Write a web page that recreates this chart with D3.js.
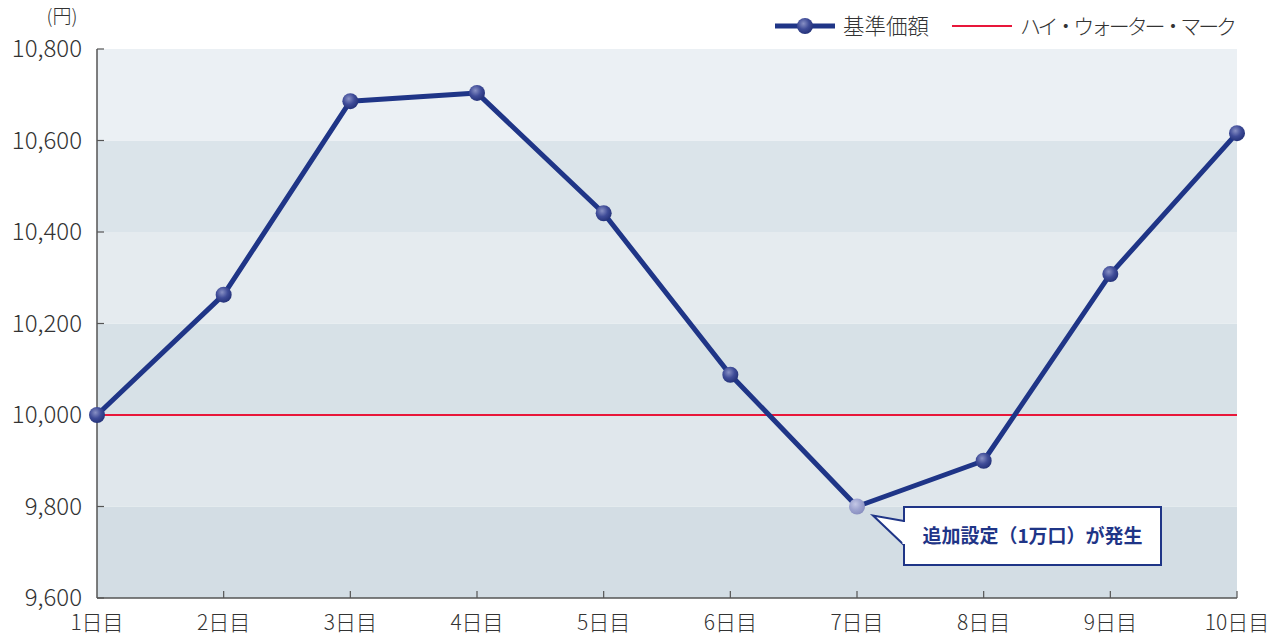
<!DOCTYPE html>
<html>
<head>
<meta charset="utf-8">
<script src="https://cdn.jsdelivr.net/npm/d3@7"></script>
<style>
  body { margin: 0; background: #fff; }
  text { font-family: "Noto Sans CJK JP", "Noto Sans", sans-serif; }
</style>
</head>
<body>
<div id="main"></div>
<script>
var days = ["1日目", "2日目", "3日目", "4日目", "5日目", "6日目", "7日目", "8日目", "9日目", "10日目"];
var navValues = [10000, 10263, 10686, 10704, 10441, 10088, 9800, 9900, 10308, 10616];
var highWaterMark = 10000;
var yTicks = [9600, 9800, 10000, 10200, 10400, 10600, 10800];
var bandColors = ["#d3dde4", "#e0e7ec", "#d7e1e7", "#e5ebef", "#dbe4ea", "#ebf0f4"];

var width = 1281, height = 635;
var plotLeft = 97, plotRight = 1237, plotTop = 49, plotBottom = 598;

var svg = d3.select("#main").append("svg")
  .attr("width", width).attr("height", height);

var x = d3.scalePoint().domain(days).range([plotLeft, plotRight]);
var y = d3.scaleLinear().domain([9600, 10800]).range([plotBottom, plotTop]);

var defs = svg.append("defs");
function sphere(id, c0, c1, c2) {
  var g = defs.append("radialGradient").attr("id", id)
    .attr("cx", "40%").attr("cy", "35%").attr("r", "65%");
  g.append("stop").attr("offset", "0%").attr("stop-color", c0);
  g.append("stop").attr("offset", "55%").attr("stop-color", c1);
  g.append("stop").attr("offset", "100%").attr("stop-color", c2);
}
sphere("ball", "#8890c4", "#3f4c98", "#25337a");
sphere("ballLight", "#c4c8e6", "#9ea4d0", "#8a90c0");

// background bands
for (var i = 0; i < yTicks.length - 1; i++) {
  svg.append("rect")
    .attr("x", plotLeft).attr("y", y(yTicks[i + 1]))
    .attr("width", plotRight - plotLeft).attr("height", y(yTicks[i]) - y(yTicks[i + 1]))
    .attr("fill", bandColors[i]);
}

// axes
svg.append("line").attr("x1", plotLeft).attr("x2", plotLeft).attr("y1", plotTop).attr("y2", plotBottom)
  .attr("stroke", "#555").attr("stroke-width", 1.5);
svg.append("line").attr("x1", plotLeft).attr("x2", plotRight).attr("y1", plotBottom).attr("y2", plotBottom)
  .attr("stroke", "#555").attr("stroke-width", 1.5);

yTicks.forEach(function (t) {
  svg.append("line").attr("x1", plotLeft).attr("x2", plotLeft + 7).attr("y1", y(t)).attr("y2", y(t))
    .attr("stroke", "#555").attr("stroke-width", 1.2);
  svg.append("text").attr("x", 82).attr("y", y(t)).attr("dy", "0.35em")
    .attr("text-anchor", "end").style("font-size", "24px").style("font-weight", 300)
    .attr("fill", "#333").text(d3.format(",")(t));
});
svg.append("text").attr("x", 62).attr("y", 23).attr("text-anchor", "middle")
  .style("font-size", "19px").style("font-weight", 300).attr("fill", "#333").text("(円)");

days.forEach(function (d, i) {
  if (i > 0) {
    svg.append("line").attr("x1", x(d)).attr("x2", x(d)).attr("y1", plotBottom).attr("y2", plotBottom - 7)
      .attr("stroke", "#555").attr("stroke-width", 1.2);
  }
  svg.append("text").attr("x", x(d)).attr("y", 630).attr("text-anchor", "middle")
    .style("font-size", "21px").style("font-weight", 300).attr("fill", "#333").text(d);
});

// high water mark
svg.append("line").attr("x1", plotLeft).attr("x2", plotRight)
  .attr("y1", y(highWaterMark)).attr("y2", y(highWaterMark))
  .attr("stroke", "#e8173a").attr("stroke-width", 2);

// NAV line
var line = d3.line().x(function (d, i) { return x(days[i]); }).y(function (d) { return y(d); });
svg.append("path").datum(navValues).attr("d", line)
  .attr("fill", "none").attr("stroke", "#1f3587").attr("stroke-width", 5)
  .attr("stroke-linejoin", "round");

svg.selectAll(".pt").data(navValues).enter().append("circle")
  .attr("cx", function (d, i) { return x(days[i]); })
  .attr("cy", function (d) { return y(d); })
  .attr("r", 8)
  .attr("fill", function (d, i) { return i === 6 ? "url(#ballLight)" : "url(#ball)"; });

// callout
var cx = x(days[6]), cy = y(navValues[6]);
var bx = 904, by = 507, bw = 257, bh = 58;
svg.append("path")
  .attr("d", "M" + bx + "," + (by + 14) + " L" + (cx + 16) + "," + (cy + 9) + " L" + bx + "," + (by + 38))
  .attr("fill", "#fff").attr("stroke", "#1f3587").attr("stroke-width", 2);
svg.append("rect").attr("x", bx).attr("y", by).attr("width", bw).attr("height", bh)
  .attr("fill", "#fff").attr("stroke", "#1f3587").attr("stroke-width", 2);
svg.append("rect").attr("x", bx - 1.5).attr("y", by + 15).attr("width", 4).attr("height", 22)
  .attr("fill", "#fff");
svg.append("text").attr("x", bx + bw / 2).attr("y", by + bh / 2).attr("dy", "0.36em")
  .attr("text-anchor", "middle").style("font-size", "19px").style("font-weight", "bold")
  .attr("fill", "#1f3587").text("追加設定（1万口）が発生");

// legend
var lg = svg.append("g");
lg.append("line").attr("x1", 775).attr("x2", 835).attr("y1", 26).attr("y2", 26)
  .attr("stroke", "#1f3587").attr("stroke-width", 5);
lg.append("circle").attr("cx", 805).attr("cy", 26).attr("r", 8).attr("fill", "url(#ball)");
lg.append("text").attr("x", 843).attr("y", 26).attr("dy", "0.36em")
  .style("font-size", "21.5px").style("font-weight", 300).attr("fill", "#333").text("基準価額");
lg.append("line").attr("x1", 952).attr("x2", 1012).attr("y1", 26).attr("y2", 26)
  .attr("stroke", "#e8173a").attr("stroke-width", 2);
lg.append("text").attr("x", 1020).attr("y", 26).attr("dy", "0.36em")
  .style("font-size", "21px").style("font-weight", 300).attr("fill", "#333")
  .attr("textLength", 217).text("ハイ・ウォーター・マーク");
</script>
</body>
</html>
